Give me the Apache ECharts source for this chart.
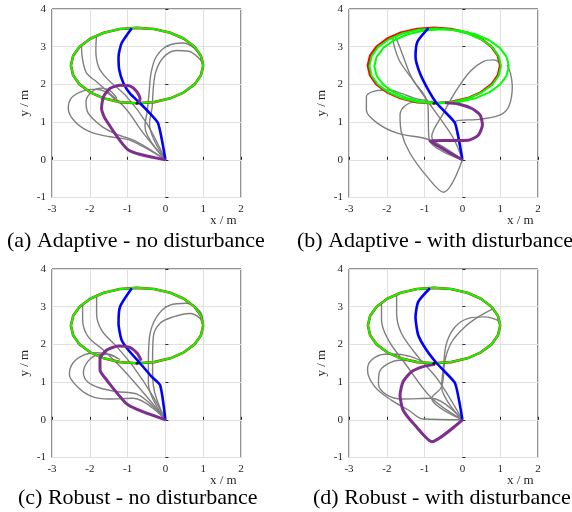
<!DOCTYPE html>
<html><head><meta charset="utf-8">
<script src="https://cdn.jsdelivr.net/npm/echarts@6/dist/echarts.min.js"></script>
<style>html,body{margin:0;padding:0;background:#fff}#c{width:572px;height:512px}</style>
</head><body><div id="c"></div>
<script>
// ---- data ----
const xMin = -3, xMax = 2, xStep = 1;
const yMin = -1, yMax = 4, yStep = 1;
const captions = ['(a) Adaptive - no disturbance', '(b) Adaptive - with disturbance',
                  '(c) Robust - no disturbance', '(d) Robust - with disturbance'];
const xName = 'x / m', yName = 'y / m';

const refEllipse = [[1.00,2.50],[0.94,2.76],[0.77,3.00],[0.49,3.21],[0.13,3.37],[-0.30,3.47],[-0.75,3.50],
 [-1.20,3.47],[-1.63,3.37],[-1.99,3.21],[-2.27,3.00],[-2.44,2.76],[-2.50,2.50],[-2.44,2.24],[-2.27,2.00],
 [-1.99,1.79],[-1.63,1.63],[-1.20,1.53],[-0.75,1.50],[-0.30,1.53],[0.13,1.63],[0.49,1.79],[0.77,2.00],
 [0.94,2.24],[1.00,2.50]];
const greenB1 = [[1.02,2.49],[0.96,2.75],[0.79,2.99],[0.51,3.19],[0.15,3.35],[-0.27,3.45],[-0.72,3.48],
 [-1.17,3.45],[-1.59,3.35],[-1.95,3.19],[-2.23,2.99],[-2.40,2.75],[-2.46,2.49],[-2.40,2.23],[-2.23,1.99],
 [-1.95,1.79],[-1.59,1.63],[-1.17,1.53],[-0.72,1.50],[-0.27,1.53],[0.15,1.63],[0.51,1.79],[0.79,1.99],
 [0.96,2.23],[1.02,2.49]];
const greenB2 = [[1.23,2.48],[1.17,2.73],[0.99,2.97],[0.71,3.17],[0.34,3.33],[-0.09,3.43],[-0.55,3.46],
 [-1.01,3.43],[-1.44,3.33],[-1.81,3.17],[-2.09,2.97],[-2.27,2.73],[-2.33,2.48],[-2.27,2.23],[-2.09,1.99],
 [-1.81,1.79],[-1.44,1.63],[-1.01,1.53],[-0.55,1.50],[-0.09,1.53],[0.34,1.63],[0.71,1.79],[0.99,1.99],
 [1.17,2.23],[1.23,2.48]];
const markPt = [[-0.75,1.5]];

// (a)
const blueA = [[0,0],[-0.19,0.96],[-0.41,1.23],[-0.67,1.50],[-0.94,1.76],[-1.11,2.03],[-1.22,2.38],[-1.24,2.73],[-1.16,3.09],[-0.89,3.49]];
const purpleA = [[0,0],[-0.98,0.26],[-1.60,1.10],[-1.69,1.36],[-1.64,1.67],[-1.47,1.89],[-1.20,1.98],[-0.94,1.96],[-0.76,1.81],[-0.67,1.63],[-0.71,1.50]];
const grayA = [
 [[0,0],[-0.94,0.52],[-1.47,0.61],[-1.99,0.74],[-2.39,1.01],[-2.57,1.36],[-2.48,1.65],[-2.17,1.83],[-1.82,1.87],[-1.55,1.78],[-1.33,1.60]],
 [[0,0],[-0.80,0.50],[-1.30,0.68],[-1.70,0.90],[-2.05,1.25],[-2.10,1.55],[-1.95,1.80],[-1.70,1.90],[-1.45,1.82],[-1.28,1.62]],
 [[0,0],[-0.58,0.70],[-1.02,1.32],[-1.47,1.76],[-1.82,2.07],[-2.08,2.29],[-2.19,2.65],[-2.22,3.04]],
 [[0,0],[-0.49,0.96],[-1.02,1.67],[-1.55,2.16],[-1.77,2.47],[-1.84,2.91],[-1.82,3.31]],
 [[0,0],[-0.54,0.88],[-0.48,1.30],[-0.43,1.80],[-0.38,2.30],[-0.25,2.72],[0.05,3.02],[0.45,3.10],[0.78,2.95],[0.96,2.68]],
 [[0,0],[-0.42,0.95],[-0.35,1.40],[-0.32,1.90],[-0.25,2.35],[-0.05,2.72],[0.28,2.90],[0.62,2.88],[0.88,2.70],[0.99,2.55]]
];
// (b)
const blueB = [[0,0],[-0.19,0.96],[-0.46,1.27],[-0.68,1.50],[-0.90,1.85],[-1.12,2.29],[-1.24,2.73],[-1.19,3.13],[-0.90,3.49]];
const purpleB = [[0,0],[-0.86,0.50],[-0.40,0.51],[0.16,0.52],[0.42,0.65],[0.53,0.92],[0.47,1.19],[0.25,1.36],[-0.11,1.48],[-0.46,1.51]];
const grayB = [
 [[0,0],[-0.50,-0.86],[-0.94,-0.44],[-1.39,0.18],[-1.61,0.71],[-1.65,1.19],[-1.48,1.46],[-1.12,1.55],[-0.77,1.55]],
 [[0,0],[-0.85,0.52],[-1.70,0.70],[-2.23,0.96],[-2.54,1.32],[-2.54,1.67],[-2.32,1.82],[-1.96,1.85],[-1.61,1.76],[-1.26,1.63],[-0.95,1.58]],
 [[0,0],[-0.88,0.55],[-0.92,1.50],[-1.30,2.10],[-1.65,2.60],[-1.80,3.00],[-1.85,3.27]],
 [[0,0],[-0.19,1.00],[0.50,1.08],[1.00,1.19],[1.23,1.42],[1.32,1.95],[1.27,2.30],[1.18,2.52]],
 [[0,0],[-0.81,0.62],[-0.50,1.24],[-0.15,1.86],[0.21,2.35],[0.56,2.61],[0.83,2.65],[1.00,2.57]],
 [[0,0],[-0.20,0.50],[-0.45,0.90],[-0.95,1.60],[-1.35,2.20],[-1.55,2.70],[-1.70,3.10],[-1.80,3.30]]
];
// (c)
const blueC = [[0,0],[-0.14,0.92],[-0.36,1.14],[-0.67,1.50],[-0.98,1.85],[-1.16,2.12],[-1.24,2.56],[-1.20,3.00],[-0.89,3.49]];
const purpleC = [[0,0],[-0.98,0.39],[-1.55,1.05],[-1.73,1.32],[-1.73,1.63],[-1.55,1.85],[-1.24,1.96],[-0.94,1.92],[-0.74,1.76],[-0.64,1.57]];
const grayC = [
 [[0,0],[-0.85,0.57],[-1.50,0.55],[-1.95,0.62],[-2.30,0.85],[-2.54,1.20],[-2.45,1.50],[-2.15,1.72],[-1.80,1.78],[-1.45,1.72],[-1.20,1.60]],
 [[0,0],[-0.75,0.68],[-1.30,0.75],[-1.75,0.85],[-2.05,1.00],[-2.17,1.25],[-2.05,1.55],[-1.80,1.72],[-1.50,1.74],[-1.25,1.62]],
 [[0,0],[-0.49,0.61],[-1.11,1.32],[-1.64,1.85],[-2.04,2.20],[-2.19,2.65],[-2.19,3.04]],
 [[0,0],[-0.32,0.61],[-0.85,1.41],[-1.29,1.94],[-1.69,2.38],[-1.82,2.82],[-1.82,3.31]],
 [[0,0],[-0.45,0.96],[-0.45,1.50],[-0.42,2.20],[-0.23,2.73],[0.12,3.04],[0.56,3.09],[0.92,2.87],[0.99,2.60]],
 [[0,0],[-0.32,0.92],[-0.34,1.50],[-0.32,2.20],[-0.14,2.56],[0.21,2.73],[0.65,2.82],[0.92,2.69],[1.00,2.51]]
];
// (d)
const blueD = [[0,0],[-0.19,0.96],[-0.46,1.27],[-0.68,1.50],[-0.95,1.85],[-1.17,2.25],[-1.24,2.73],[-1.17,3.13],[-0.86,3.49]];
const purpleD = [[0,0],[-0.81,-0.58],[-1.26,-0.14],[-1.57,0.26],[-1.65,0.65],[-1.57,1.01],[-1.35,1.27],[-1.04,1.41],[-0.73,1.47]];
const grayD = [
 [[0,0],[-1.04,0.02],[-1.43,0.26],[-1.88,0.52],[-2.32,0.88],[-2.51,1.32],[-2.41,1.58],[-2.05,1.74],[-1.70,1.74],[-1.35,1.67],[-1.04,1.54]],
 [[0,0],[-0.81,0.57],[-1.60,0.55],[-2.00,0.66],[-2.22,0.95],[-2.20,1.25],[-2.00,1.47],[-1.65,1.58],[-1.25,1.56]],
 [[0,0],[-0.81,0.57],[-1.52,1.50],[-1.96,2.12],[-2.14,2.65],[-2.14,3.09]],
 [[0,0],[-0.64,1.05],[-1.17,1.67],[-1.61,2.29],[-1.74,2.82],[-1.74,3.34]],
 [[0,0],[-0.55,0.88],[-0.50,1.41],[-0.42,2.03],[-0.19,2.47],[0.16,2.69],[0.60,2.73],[0.91,2.65],[1.00,2.56]],
 [[0,0],[-0.81,0.57],[-0.55,0.88],[-0.46,1.58],[-0.28,2.07],[0.07,2.47],[0.42,2.73],[0.78,2.93]]
];

const panelData = [
 {blue: blueA, purple: purpleA, grays: grayA, greens: [refEllipse]},
 {blue: blueB, purple: purpleB, grays: grayB, greens: [greenB1, greenB2]},
 {blue: blueC, purple: purpleC, grays: grayC, greens: [refEllipse]},
 {blue: blueD, purple: purpleD, grays: grayD, greens: [refEllipse]}
];

// ---- layout ----
const gridPos = [
 {left: 52, top: 9}, {left: 349, top: 9}, {left: 52, top: 269}, {left: 349, top: 269}
];
const GW = 189, GH = 188.5;
const captionPos = [[7,242],[297,242],[18,499],[313,499]];
const font = 'Liberation Serif';
const txtCol = '#262626';

const grids = [], xAxes = [], yAxes = [], series = [], graphics = [];
gridPos.forEach((p, i) => {
  grids.push({left: p.left, top: p.top, width: GW, height: GH, show: true,
    borderColor: txtCol, borderWidth: 1, backgroundColor: '#fff', containLabel: false});
  xAxes.push({type: 'value', gridIndex: i, min: xMin, max: xMax, interval: xStep,
    axisLine: {show: false}, axisTick: {show: true, inside: true, length: 3, lineStyle: {color: txtCol}},
    splitLine: {show: true, lineStyle: {color: '#e0e0e0', width: 1}},
    axisLabel: {fontFamily: font, fontSize: 11, color: txtCol, margin: 6}});
  yAxes.push({type: 'value', gridIndex: i, min: yMin, max: yMax, interval: yStep,
    axisLine: {show: false}, axisTick: {show: true, inside: true, length: 3, lineStyle: {color: txtCol}},
    splitLine: {show: true, lineStyle: {color: '#e0e0e0', width: 1}},
    axisLabel: {fontFamily: font, fontSize: 11, color: txtCol, margin: 6},
    name: yName, nameLocation: 'middle', nameGap: 21, nameRotate: 90,
    nameTextStyle: {fontFamily: font, fontSize: 13, color: txtCol}});
  const d = panelData[i];
  d.grays.forEach(g => series.push({type: 'line', xAxisIndex: i, yAxisIndex: i, data: g,
    smooth: 0.35, symbol: 'none', lineStyle: {color: '#7f7f7f', width: 1.4}, z: 2}));
  series.push({type: 'line', xAxisIndex: i, yAxisIndex: i, data: refEllipse, symbol: 'none',
    lineStyle: {color: '#ff0000', width: 2.6}, z: 3});
  d.greens.forEach(g => series.push({type: 'line', xAxisIndex: i, yAxisIndex: i, data: g, symbol: 'none',
    lineStyle: {color: '#00ff00', width: 2}, z: 4}));
  series.push({type: 'line', xAxisIndex: i, yAxisIndex: i, data: d.blue, smooth: 0.2, symbol: 'none',
    lineStyle: {color: '#0000ff', width: 2.6}, z: 5});
  series.push({type: 'line', xAxisIndex: i, yAxisIndex: i, data: d.purple, smooth: 0.2, symbol: 'none',
    lineStyle: {color: '#7e2f8e', width: 3}, z: 6});
  series.push({type: 'scatter', xAxisIndex: i, yAxisIndex: i, data: markPt, symbolSize: 3,
    itemStyle: {color: '#000'}, z: 7});
  graphics.push({type: 'text', left: p.left + GW - 31, top: p.top + GH + 17,
    style: {text: xName, font: '13px "' + font + '"', fill: txtCol}});
  graphics.push({type: 'text', left: captionPos[i][0], top: captionPos[i][1] - 12,
    style: {text: captions[i], font: '22px "' + font + '"', fill: '#000'}});
});

const chart = echarts.init(document.getElementById('c'), null, {renderer: 'canvas'});
chart.setOption({
  backgroundColor: '#fff', animation: false,
  grid: grids, xAxis: xAxes, yAxis: yAxes, series: series, graphic: graphics
});
</script></body></html>
